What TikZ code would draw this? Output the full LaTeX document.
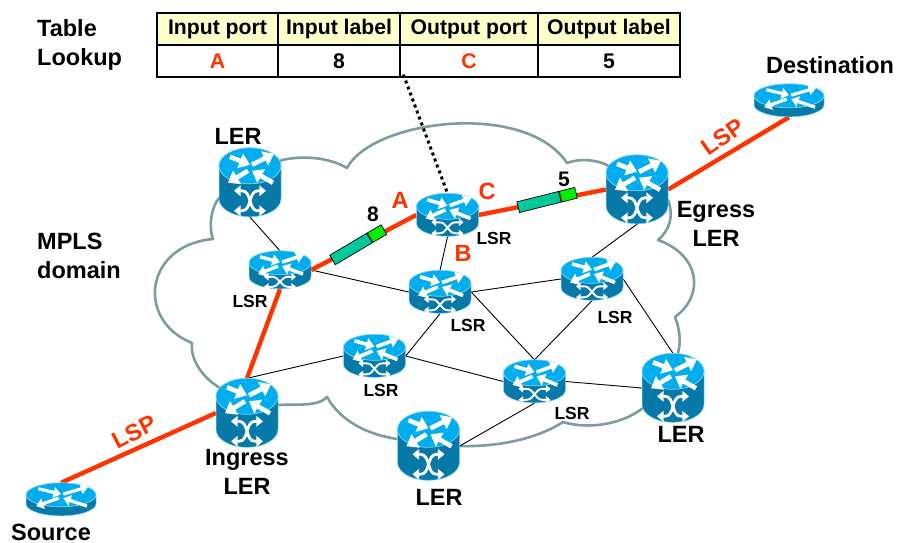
\documentclass[tikz,border=0pt]{standalone}
\usepackage{fontspec}
\setmainfont{Liberation Sans}
\usetikzlibrary{arrows.meta}
\definecolor{lspred}{HTML}{FF3300}
\definecolor{cloudgray}{HTML}{7D9CA0}
\definecolor{rtrtop}{HTML}{00AEEF}
\definecolor{rtrside}{HTML}{0779A9}
\definecolor{rtrrim}{HTML}{7FD4F2}
\definecolor{tablehead}{HTML}{FFFFCC}
\definecolor{tagdark}{HTML}{00C896}
\definecolor{taglight}{HTML}{00F000}
\tikzset{
    lerbox/.style={minimum width=62pt,minimum height=69pt,inner sep=0pt},
    lsrbox/.style={minimum width=62pt,minimum height=43pt,inner sep=0pt},
    hostbox/.style={minimum width=70pt,minimum height=33pt,inner sep=0pt},
    link/.style={draw=black,line width=0.9pt},
    lsp/.style={draw=lspred,line width=4.4pt},
    biglabel/.style={font=\fontsize{23.5}{29}\selectfont\bfseries,align=center,inner sep=0pt},
    lsrlabel/.style={font=\fontsize{17.5}{20}\selectfont\bfseries,inner sep=0pt},
    portlabel/.style={font=\fontsize{23.5}{28}\selectfont\bfseries,text=lspred,inner sep=0pt},
    taglabel/.style={font=\fontsize{21}{25}\selectfont\bfseries,inner sep=0pt},
    cell/.style={draw=black,line width=1.2pt,minimum height=32pt,inner sep=0pt,font=\fontsize{21.2}{25}\selectfont\bfseries},
    tagtail/.style={draw=black,line width=0.7pt,fill=tagdark,minimum width=43pt,minimum height=11pt,inner sep=0pt},
    taghead/.style={draw=black,line width=0.7pt,fill=taglight,minimum width=16pt,minimum height=11pt,inner sep=0pt,anchor=west},
    rtrarrow/.style={white,line width=#1,-{Triangle[length=0pt 2.3 0,width=0pt 3.3 0]}},
    crossline/.style={white,line width=#1,{Triangle[length=0pt 2.4 0,width=0pt 3.8 0]}-{Triangle[length=0pt 2.4 0,width=0pt 3.8 0]}},
    pics/router/.style n args={4}{code={
        \path[fill=rtrside,draw=rtrrim,line width=0.5pt] (-#1/2,#2/2) -- (-#1/2,#3-#2/2)
            arc[start angle=180,end angle=0,x radius=#1/2,y radius=#2/2] -- (#1/2,#2/2) -- cycle;
        \path[fill=rtrtop,draw=rtrrim,line width=0.7pt] (0,#2/2) ellipse[x radius=#1/2,y radius=#2/2];
        \begin{scope}[shift={(0,#2/2)},xscale=#1/62,yscale=#2/36]
            \draw[rtrarrow=#4] (-20,-9) -- (0,-1);
            \draw[rtrarrow=#4] (2,-1) -- (24,-12);
            \draw[rtrarrow=#4] (-2,5) -- (-22,17);
            \draw[rtrarrow=#4] (23,17) -- (2,5);
        \end{scope}
    }},
    pics/crossover/.style n args={3}{code={
        \draw[crossline=#3] (-16,#1-#2) -- (-8,#1-#2) to[out=0,in=180] (8,#1+#2) -- (16,#1+#2);
        \draw[crossline=#3] (-16,#1+#2) -- (-8,#1+#2) to[out=0,in=180] (8,#1-#2) -- (16,#1-#2);
    }}
}
\begin{document}
\begin{tikzpicture}[x=1pt,y=-1pt]
    \useasboundingbox (0,0) rectangle (899,543);

    \node[lerbox] (lerNW) at (250,182.5) {};
    \node[lerbox] (egress) at (637,189.5) {};
    \node[lerbox] (ingress) at (247,413) {};
    \node[lerbox] (lerS) at (428.5,446) {};
    \node[lerbox] (lerE) at (673,388) {};
    \node[lsrbox,minimum height=38pt] (lsrW) at (280,270) {};
    \node[lsrbox] (lsrC) at (447.5,215) {};
    \node[lsrbox] (lsrM) at (440,292) {};
    \node[lsrbox] (lsrE) at (592,279) {};
    \node[lsrbox] (lsrSW) at (374.5,356) {};
    \node[lsrbox] (lsrS) at (534.5,381.5) {};
    \node[hostbox] (source) at (61,499.5) {};
    \node[hostbox] (dest) at (789,100.5) {};

    \draw[cloudgray,line width=2.6pt,line join=round]
        (282,160) .. controls (305,155) and (330,158) .. (347,168)
        .. controls (372,120) and (525,100) .. (567,163)
        .. controls (580,158) and (597,160) .. (607,165)
        -- (668,200) .. controls (674,215) and (670,230) .. (658,240)
        .. controls (700,255) and (705,295) .. (675,317)
        .. controls (680,330) and (681,342) .. (678,353)
        -- (643,408) .. controls (620,426) and (585,429) .. (563,422)
        .. controls (535,440) and (495,447) .. (460,446)
        -- (397,439) .. controls (365,434) and (340,420) .. (327,397)
        .. controls (318,407) and (295,404) .. (277,405)
        -- (220,388) .. controls (203,378) and (190,360) .. (192,343)
        .. controls (135,320) and (145,245) .. (213,239)
        .. controls (208,225) and (212,205) .. (220,197)
        -- cycle;

    \draw[link] (lerNW.south) -- (lsrW.north);
    \draw[link] (lsrW.east) -- (lsrM.west);
    \draw[link] (lsrC.south) -- (lsrM.north);
    \draw[link] (lsrM.east) -- (lsrE.west);
    \draw[link] (lsrM.south) -- (lsrSW.east);
    \draw[link] (lsrSW.east) -- (lsrS.west);
    \draw[link] (lsrM.east) -- (lsrS.north);
    \draw[link] (lsrE.south) -- (lsrS.north);
    \draw[link] (lsrE.north) -- (egress.south);
    \draw[link] (lsrE.east) -- (lerE.north);
    \draw[link] (lsrS.east) -- (lerE.west);
    \draw[link] (lsrS.south) -- (lerS.east);
    \draw[link] (lsrSW.west) -- (ingress.north);

    \draw[lsp] (source.north) -- (ingress.west);
    \draw[lsp] (ingress.north) -- (lsrW.south);
    \draw[lsp] (lsrW.east) -- (lsrC.west);
    \draw[lsp] (lsrC.east) -- (egress.west);
    \draw[lsp] (egress.east) -- (dest.south);

    \foreach \n in {lerNW,egress,ingress,lerS,lerE} {
        \pic at (\n.north) {router={62}{36}{69}{4.6}};
        \pic at (\n.north) {crossover={53}{10}{2.8}};
    }
    \foreach \n in {lsrC,lsrM,lsrE,lsrSW,lsrS} {
        \pic at (\n.north) {router={62}{26}{43}{3.6}};
        \pic at (\n.north) {crossover={34.5}{5.5}{1.9}};
    }
    \pic at (lsrW.north) {router={62}{24}{38}{3.4}};
    \pic at (lsrW.north) {crossover={31}{5}{1.9}};
    \pic at (source.north) {router={70}{24}{33}{3.2}};
    \pic at (dest.north) {router={70}{24}{33}{3.2}};

    \node[tagtail,rotate=30.6] (tag8) at (351,249) {};
    \node[taghead,rotate=30.6] (tag8h) at (tag8.east) {};
    \node[tagtail,rotate=14] (tag5) at (539,202) {};
    \node[taghead,rotate=14] (tag5h) at (tag5.east) {};
    \node[taglabel] (val8) at (373,214) {8};
    \node[taglabel] (val5) at (564,179) {5};

    \node[cell,fill=tablehead,minimum width=121pt] (h1) at (217.5,29) {Input port};
    \node[cell,fill=tablehead,minimum width=122pt] (h2) at (339,29) {Input label};
    \node[cell,fill=tablehead,minimum width=138pt] (h3) at (469,29) {Output port};
    \node[cell,fill=tablehead,minimum width=142pt] (h4) at (609,29) {Output label};
    \node[cell,minimum width=121pt,text=lspred] (r1) at (217.5,61) {A};
    \node[cell,minimum width=122pt] (r2) at (339,61) {8};
    \node[cell,minimum width=138pt,text=lspred] (r3) at (469,61) {C};
    \node[cell,minimum width=142pt] (r4) at (609,61) {5};
    \draw[black,line width=3pt,dash pattern=on 3pt off 3.4pt] ([xshift=4pt,yshift=3pt]r3.south west) -- (lsrC.north);

    \node[biglabel,align=left,anchor=west] (lookup) at (37,45) {Table\\Lookup};
    \node[biglabel,align=left,anchor=west] (domain) at (37,256) {MPLS\\domain};
    \node[biglabel] (lblNW) at (238,136) {LER};
    \node[biglabel] (lblEg) at (716,224) {Egress\\LER};
    \node[biglabel] (lblIn) at (247,472) {Ingress\\LER};
    \node[biglabel] (lblS) at (439,497) {LER};
    \node[biglabel] (lblE) at (681,434) {LER};
    \node[biglabel] (lblSrc) at (51,532.5) {Source};
    \node[biglabel] (lblDst) at (830,65) {Destination};

    \node[lsrlabel] (l1) at (250,301) {LSR};
    \node[lsrlabel] (l2) at (494,238) {LSR};
    \node[lsrlabel] (l3) at (468,325) {LSR};
    \node[lsrlabel] (l4) at (615,317) {LSR};
    \node[lsrlabel] (l5) at (381,390) {LSR};
    \node[lsrlabel] (l6) at (572,413) {LSR};

    \node[portlabel] (pa) at (400,200) {A};
    \node[portlabel] (pb) at (463,253) {B};
    \node[portlabel] (pc) at (487,191) {C};
    \node[portlabel,rotate=27] (lsp1) at (134,432) {LSP};
    \node[portlabel,rotate=35] (lsp2) at (723,137) {LSP};
\end{tikzpicture}
\end{document}
